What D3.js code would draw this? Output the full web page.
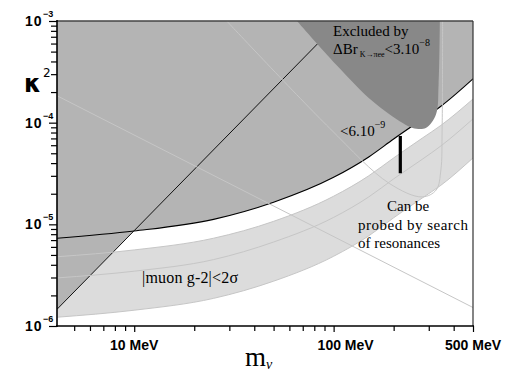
<!DOCTYPE html>
<html><head><meta charset="utf-8">
<script src="https://cdn.jsdelivr.net/npm/d3@7"></script>
<style>html,body{margin:0;padding:0;background:#fff;}svg{display:block;}</style>
</head><body>
<svg id="chart" width="508" height="375"></svg>
<script>
// ---- data (MeV, kappa^2) ----
const massGrid   = [4.1, 10, 25, 50, 100, 150, 200, 280, 345, 500];
const kappaLimit = [7.3e-6, 8.6e-6, 1.12e-5, 1.65e-5, 2.9e-5, 4.6e-5, 6.9e-5, 1.09e-4, 1.45e-4, 2.7e-4];
const g2Upper    = [4.8e-6, 5.6e-6, 7.3e-6, 1.07e-5, 1.89e-5, 3.0e-5, 4.5e-5, 7.1e-5, 9.4e-5, 1.71e-4];
const g2Central  = [2.97e-6, 3.46e-6, 4.5e-6, 6.7e-6, 1.17e-5, 1.86e-5, 2.8e-5, 4.4e-5, 5.9e-5, 1.09e-4];
const g2Lower    = [1.22e-6, 1.43e-6, 1.87e-6, 2.76e-6, 4.85e-6, 7.7e-6, 1.16e-5, 1.83e-5, 2.42e-5, 4.5e-5];

const diagMass  = [4.1, 90];
const diagKappa = [1.46e-6, 7.0e-4];

const lineAMass  = [4.1, 500];
const lineAKappa = [1.84e-4, 1.52e-6];

const resoMass  = [29.1, 95.3, 190, 278, 327, 345, 350, 352];
const resoKappa = [1e-3, 8.86e-5, 2.53e-5, 1.86e-5, 2.18e-5, 3.42e-5, 8.5e-5, 1e-3];

const kaonMass  = [65.5, 103, 157, 222, 249, 290, 326, 336, 341];
const kaonKappa = [1e-3, 3.72e-4, 1.62e-4, 9.9e-5, 8.86e-5, 8.86e-5, 1.2e-4, 2.36e-4, 1e-3];

const barMass  = 216;
const barKappa = [3.18e-5, 7.4e-5];

const xMajor = [10, 100, 500];
const xMajorLabels = ["10 MeV", "100 MeV", "500 MeV"];
const xMinor = [5, 6, 7, 8, 9, 20, 30, 40, 50, 60, 70, 80, 90, 200, 300, 400];
const yMajor = [1e-3, 1e-4, 1e-5, 1e-6];
const yMajorExp = ["\u22123", "\u22124", "\u22125", "\u22126"];

// ---- scales ----
const L = 57, R = 473, T = 21, B = 326;
const x = d3.scaleLog().domain([4.1, 500]).range([L, R]);
const y = d3.scaleLog().domain([1e-6, 1e-3]).range([B, T]);

const svg = d3.select("#chart");
const pts = (ms, ks) => ms.map((m, i) => [x(m), y(ks[i])]);
const smooth = d3.line().curve(d3.curveMonotoneX);
const cr = d3.line().curve(d3.curveCatmullRom.alpha(0.5));

svg.append("clipPath").attr("id", "pc").append("rect")
  .attr("x", L).attr("y", T).attr("width", R - L).attr("height", B - T);
const g = svg.append("g").attr("clip-path", "url(#pc)");

// g-2 band
const bandArea = d3.area().curve(d3.curveMonotoneX)
  .x(d => x(d.m)).y0(d => y(d.lo)).y1(d => y(d.hi));
const bandData = massGrid.map((m, i) => ({m, lo: g2Lower[i], hi: g2Upper[i]}));
g.append("path").attr("d", bandArea(bandData)).attr("fill", "#dcdcdc");

// excluded region above kappa limit
const aboveArea = d3.area().curve(d3.curveMonotoneX)
  .x(d => x(d.m)).y0(() => T - 5).y1(d => y(d.k));
g.append("path").attr("d", aboveArea(massGrid.map((m, i) => ({m, k: kappaLimit[i]}))))
  .attr("fill", "#b4b4b4");
// excluded region above diagonal
g.append("path").attr("d", aboveArea(diagMass.map((m, i) => ({m, k: diagKappa[i]}))))
  .attr("fill", "#b4b4b4");

// black lines
g.append("path").attr("d", smooth(pts(massGrid, kappaLimit)))
  .attr("fill", "none").attr("stroke", "#000").attr("stroke-width", 1.2);
g.append("path").attr("d", smooth(pts(diagMass, diagKappa)))
  .attr("fill", "none").attr("stroke", "#111").attr("stroke-width", 1);

// kaon decay excluded blob
g.append("path").attr("d", cr(pts(kaonMass, kaonKappa)) + "Z").attr("fill", "#888888");

// thin grey contour lines
const thin = (d) => g.append("path").attr("d", d).attr("fill", "none")
  .attr("stroke", "#c6c6c6").attr("stroke-width", 1);
thin(smooth(pts(massGrid, g2Upper)));
thin(smooth(pts(massGrid, g2Central)));
thin(smooth(pts(massGrid, g2Lower)));
thin(smooth(pts(lineAMass, lineAKappa)));
thin(cr(pts(resoMass, resoKappa)));

// thick bar
svg.append("line").attr("x1", x(barMass)).attr("x2", x(barMass))
  .attr("y1", y(barKappa[0])).attr("y2", y(barKappa[1]))
  .attr("stroke", "#000").attr("stroke-width", 3.2);

// frame
svg.append("line").attr("x1", L).attr("x2", R).attr("y1", T).attr("y2", T)
  .attr("stroke", "#444").attr("stroke-width", 1.6);
svg.append("line").attr("x1", R).attr("x2", R).attr("y1", T).attr("y2", B)
  .attr("stroke", "#333").attr("stroke-width", 1.2);

// axes
const xAxisMinor = d3.axisBottom(x).tickValues(xMinor).tickSize(5).tickFormat("");
const xAxisMajor = d3.axisBottom(x).tickValues(xMajor).tickSize(6).tickFormat("");
const gx1 = svg.append("g").attr("transform", `translate(0,${B})`).call(xAxisMinor);
const gx2 = svg.append("g").attr("transform", `translate(0,${B})`).call(xAxisMajor);
[gx1, gx2].forEach(a => { a.select(".domain").remove(); a.selectAll("line").attr("stroke", "#000").attr("stroke-width", 1.2); });
svg.append("line").attr("x1", L - 1).attr("x2", R + 1).attr("y1", B).attr("y2", B)
  .attr("stroke", "#000").attr("stroke-width", 1.5);

const yMinor = [];
[1e-6, 1e-5, 1e-4].forEach(dec => { for (let k = 2; k <= 9; k++) yMinor.push(dec * k); });
const gy1 = svg.append("g").attr("transform", `translate(${L},0)`)
  .call(d3.axisLeft(y).tickValues(yMinor).tickSize(6).tickFormat(""));
const gy2 = svg.append("g").attr("transform", `translate(${L},0)`)
  .call(d3.axisLeft(y).tickValues(yMajor).tickSize(8).tickFormat(""));
[gy1, gy2].forEach(a => { a.select(".domain").remove(); a.selectAll("line").attr("stroke", "#000").attr("stroke-width", 1.2); });
svg.append("line").attr("x1", L).attr("x2", L).attr("y1", T - 1).attr("y2", B + 1)
  .attr("stroke", "#000").attr("stroke-width", 1.6);

// tick labels
const tickFont = "'Liberation Sans', Arial, sans-serif";
xMajor.forEach((v, i) => {
  svg.append("text").attr("x", x(v) + (v === 100 ? 12 : 0)).attr("y", 350)
    .attr("text-anchor", "middle").attr("font-family", tickFont).attr("font-weight", "bold")
    .attr("font-size", 14).attr("fill", "#000").text(xMajorLabels[i]);
});
yMajor.forEach((v, i) => {
  svg.append("text").attr("x", 25).attr("y", y(v) + 5)
    .attr("font-family", tickFont).attr("font-weight", "bold").attr("font-size", 14)
    .attr("letter-spacing", 1).attr("fill", "#000").text("10");
  svg.append("text").attr("x", 43).attr("y", y(v) - 4)
    .attr("font-family", tickFont).attr("font-weight", "bold").attr("font-size", 9)
    .attr("fill", "#000").text(yMajorExp[i]);
});

// axis titles
const kt = svg.append("text").attr("x", 24).attr("y", 92).attr("font-family", "'DejaVu Sans', sans-serif")
  .attr("font-weight", "bold").attr("font-size", 24).attr("fill", "#000");
kt.append("tspan").text("\u03BA");
kt.append("tspan").attr("dx", 2).attr("dy", -15).attr("font-size", 12).attr("font-weight", "normal").text("2");

const mt = svg.append("text").attr("x", 245).attr("y", 366).attr("font-family", "'Liberation Serif', serif")
  .attr("font-size", 27).attr("fill", "#000");
mt.append("tspan").text("m");
mt.append("tspan").attr("dy", 3).attr("font-size", 14).attr("font-style", "italic").text("\u03BD");

// annotations
const serif = "'Liberation Serif', 'Times New Roman', serif";
const ann = (xx, yy, size) => svg.append("text").attr("x", xx).attr("y", yy)
  .attr("font-family", serif).attr("font-size", size).attr("fill", "#000");
ann(333, 36, 15).text("Excluded by");
const a2 = ann(333, 54, 15);
a2.append("tspan").text("\u0394Br");
a2.append("tspan").attr("dy", 3).attr("dx", 2).attr("font-size", 8).text("K\u2192\u03C0ee");
a2.append("tspan").attr("dy", -3).text("<3.10");
a2.append("tspan").attr("dy", -8).attr("font-size", 10).text("\u22128");

const a3 = ann(340, 136, 15);
a3.append("tspan").text("<6.10");
a3.append("tspan").attr("dy", -8).attr("font-size", 10).text("\u22129");

ann(387, 211, 15).text("Can be");
ann(358, 229.5, 15).attr("textLength", 110).text("probed by search");
ann(358, 248, 15).text("of resonances");

ann(142, 283, 16).attr("textLength", 96).text("|muon g-2|<2\u03C3");
</script>
</body></html>
